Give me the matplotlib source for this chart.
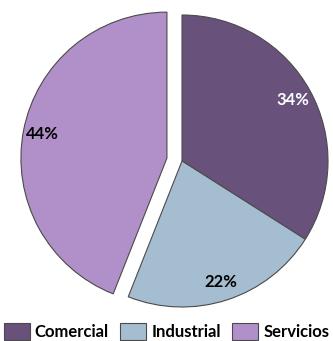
import matplotlib
matplotlib.use("Agg")
import matplotlib.pyplot as plt

categories = ["Comercial", "Industrial", "Servicios"]
shares = [34, 22, 44]
colors = ["#68527c", "#a5bdd1", "#b18fc9"]
label_colors = ["white", "black", "black"]
explode = [0, 0, 0.105]

plt.rcParams["font.family"] = ["Lato", "DejaVu Sans"]

fig = plt.figure(figsize=(3.33, 3.41), dpi=100)
ax = fig.add_axes([0, 0, 1, 1])

wedges, texts, autotexts = ax.pie(
    shares,
    colors=colors,
    explode=explode,
    startangle=90,
    counterclock=False,
    autopct=lambda p: f"{p:.0f}%",
    pctdistance=0.87,
    wedgeprops=dict(edgecolor="#4a4a4a", linewidth=0.8),
    textprops=dict(fontsize=12, fontweight="bold"),
)
for t, c in zip(autotexts, label_colors):
    t.set_color(c)

# pie of radius 1 at the origin, 146 px per unit
scale = 146.0
cx, cy = 182.0, 161.0
ax.set_xlim(-cx / scale, (333 - cx) / scale)
ax.set_ylim(-(341 - cy) / scale, cy / scale)
ax.set_aspect("auto")
ax.axis("off")

handles = [plt.Rectangle((0, 0), 1, 1, facecolor=c, edgecolor="#4a4a4a", linewidth=0.8)
           for c in colors]
fig.legend(handles, categories, loc="lower center", ncol=3, frameon=False,
           bbox_to_anchor=(0.5, 1 / 341), prop=dict(size=12, weight="bold"),
           handlelength=1.55, handleheight=1.2, handletextpad=0.3,
           columnspacing=0.7, borderaxespad=0, borderpad=0)

fig.savefig("out.png", dpi=100)
